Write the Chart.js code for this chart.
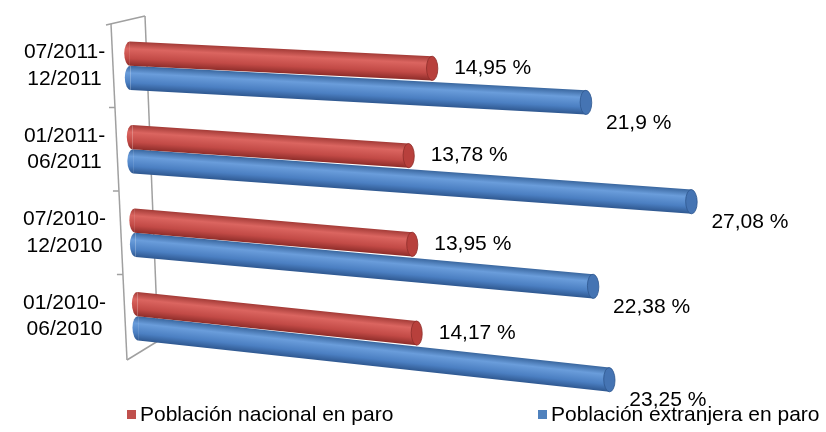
<!DOCTYPE html>
<html>
<head>
<meta charset="utf-8">
<script src="https://cdn.jsdelivr.net/npm/chart.js@4.4.0/dist/chart.umd.min.js"></script>
<style>
  html, body { margin: 0; padding: 0; background: #fff; }
  #wrap { width: 826px; height: 432px; }
</style>
</head>
<body>
<div id="wrap"><canvas id="paroChart"></canvas></div>
<script>
/* ---------- data ---------- */
const periodos = [
    ["07/2011-", "12/2011"],
    ["01/2011-", "06/2011"],
    ["07/2010-", "12/2010"],
    ["01/2010-", "06/2010"]
];
const paroNacional = [14.95, 13.78, 13.95, 14.17];
const paroExtranjera = [21.9, 27.08, 22.38, 23.25];
const nombresSeries = ["Población nacional en paro", "Población extranjera en paro"];

/* ---------- look ---------- */
const FONT = '"Liberation Sans", Arial, sans-serif';
const colores = [
    { base: "#c0504d", top: "#a33b37", mid: "#db6560", low: "#c24a46", bot: "#8e2d2a", cap: "#b8403c" },
    { base: "#4f81bd", top: "#3a679f", mid: "#6a9ddb", low: "#4b7fc2", bot: "#2f5890", cap: "#4574b3" }
];
const depth = [0.975, 1.005];          // red series sits a bit further back
const labelOffset = [{ dx: 22, dy: 0 }, { dx: 20, dy: 21 }];
const legendX = [127, 538];

function fmt(v) {
    return String(v).replace(".", ",") + " %";
}

// fake perspective: each bar gets its own slant / shift depending on its row
function warp(chart, bar, di) {
    const a = chart.chartArea;
    const d = bar.y - a.top;
    return {
        L: a.left,
        dx: 0.03 * d,
        sx: (1 - 0.0001 * d) * depth[di],
        s: 0.042 + 0.00022 * d
    };
}

function warpPoint(w, x, y) {
    const u = x - w.L;
    return { x: w.L + w.dx + w.sx * u, y: y + w.s * w.sx * u };
}

/* ---------- plugins ---------- */
const frame3d = {
    id: "frame3d",
    beforeDatasetsDraw(chart) {
        const { ctx, chartArea: a } = chart;
        const yS = chart.scales.y;
        const L = a.left, T = a.top, B = a.bottom;
        ctx.save();
        ctx.strokeStyle = "#a0a0a0";
        ctx.lineWidth = 1.5;
        const seg = (x1, y1, x2, y2) => {
            ctx.beginPath(); ctx.moveTo(x1, y1); ctx.lineTo(x2, y2); ctx.stroke();
        };
        const fx1 = L - 18, fy1 = T, fx2 = L - 2, fy2 = B + 2;
        seg(fx1, fy1, fx2, fy2);                 // front edge
        seg(L - 23, T + 1, L + 16, T - 8);       // top edge
        seg(L + 16, T - 8, L + 29, B - 17);      // back edge
        seg(fx2, fy2, L + 29, B - 17);           // floor edge
        // category separators
        for (let i = 1; i < periodos.length; i++) {
            const y = (yS.getPixelForValue(i - 1) + yS.getPixelForValue(i)) / 2;
            const x = fx1 + (fx2 - fx1) * (y - fy1) / (fy2 - fy1);
            seg(x - 6, y, x, y);
        }
        ctx.restore();
    }
};

const cylinders = {
    id: "cylinders",
    beforeDatasetsDraw(chart) {
        chart.data.datasets.forEach((ds, di) => {
            chart.getDatasetMeta(di).data.forEach(bar => {
                if (bar.__cyl) return;
                bar.__cyl = true;
                const orig = bar.draw;
                bar.draw = function (ctx, area) {
                    const w = warp(chart, this, di);
                    const c = colores[di];
                    const h = this.height;
                    const y0 = this.y - h / 2;
                    const g = ctx.createLinearGradient(0, y0, 0, y0 + h);
                    g.addColorStop(0, c.top);
                    g.addColorStop(0.3, c.mid);
                    g.addColorStop(0.7, c.low);
                    g.addColorStop(1, c.bot);

                    ctx.save();
                    ctx.translate(w.L + w.dx, 0);
                    ctx.transform(w.sx, w.s * w.sx, 0, 1, 0, 0);
                    ctx.translate(-w.L, 0);

                    const rx = h * 0.24, ry = h / 2;
                    // rounded back end
                    ctx.fillStyle = g;
                    ctx.beginPath();
                    ctx.ellipse(this.base, this.y, rx, ry, 0, Math.PI / 2, Math.PI * 1.5);
                    ctx.fill();

                    const o = this.options;
                    this.options = Object.assign({}, o, { backgroundColor: g });
                    orig.call(this, ctx, area);
                    this.options = o;

                    // end face
                    ctx.beginPath();
                    ctx.ellipse(this.x, this.y, rx, ry, 0, 0, Math.PI * 2);
                    ctx.fillStyle = c.cap;
                    ctx.fill();
                    ctx.strokeStyle = c.bot;
                    ctx.lineWidth = 0.8;
                    ctx.stroke();
                    ctx.restore();
                };
            });
        });
    },
    afterDatasetsDraw(chart) {
        const ctx = chart.ctx;
        ctx.save();
        ctx.font = "21px " + FONT;
        ctx.fillStyle = "#000";
        ctx.textBaseline = "middle";
        ctx.textAlign = "left";
        chart.data.datasets.forEach((ds, di) => {
            chart.getDatasetMeta(di).data.forEach((bar, i) => {
                const p = warpPoint(warp(chart, bar, di), bar.x, bar.y);
                ctx.fillText(fmt(ds.data[i]), p.x + labelOffset[di].dx, p.y + labelOffset[di].dy);
            });
        });
        ctx.restore();
    }
};

const bottomLegend = {
    id: "bottomLegend",
    afterDraw(chart) {
        const ctx = chart.ctx;
        const y = 415;
        ctx.save();
        ctx.font = "21px " + FONT;
        ctx.textBaseline = "middle";
        ctx.textAlign = "left";
        chart.data.datasets.forEach((ds, di) => {
            const x = legendX[di];
            ctx.fillStyle = colores[di].base;
            ctx.fillRect(x, y - 5, 9, 9);
            ctx.fillStyle = "#000";
            ctx.fillText(ds.label, x + 13, y);
        });
        ctx.restore();
    }
};

/* ---------- chart ---------- */
new Chart(document.getElementById("paroChart"), {
    type: "bar",
    data: {
        labels: periodos,
        datasets: [
            { label: nombresSeries[0], data: paroNacional, backgroundColor: colores[0].base },
            { label: nombresSeries[1], data: paroExtranjera, backgroundColor: colores[1].base }
        ]
    },
    options: {
        indexAxis: "y",
        responsive: true,
        maintainAspectRatio: false,
        animation: false,
        datasets: {
            bar: {
                barPercentage: 1,
                categoryPercentage: 0.58,
                borderWidth: 0,
                borderSkipped: false,
                clip: false
            }
        },
        layout: { padding: { top: 24, right: 73, bottom: 74, left: 0 } },
        plugins: {
            legend: { display: false },
            tooltip: { enabled: false }
        },
        scales: {
            x: { display: false, min: 0, max: 30 },
            y: {
                grid: { display: false },
                border: { display: false },
                ticks: {
                    padding: 15,
                    crossAlign: "center",
                    color: "#000",
                    font: { size: 21, family: FONT, lineHeight: 1.25 }
                },
                afterFit(scale) {
                    scale.width = 129;
                    scale.paddingTop = 0;
                    scale.paddingBottom = 0;
                }
            }
        }
    },
    plugins: [frame3d, cylinders, bottomLegend]
});
</script>
</body>
</html>
